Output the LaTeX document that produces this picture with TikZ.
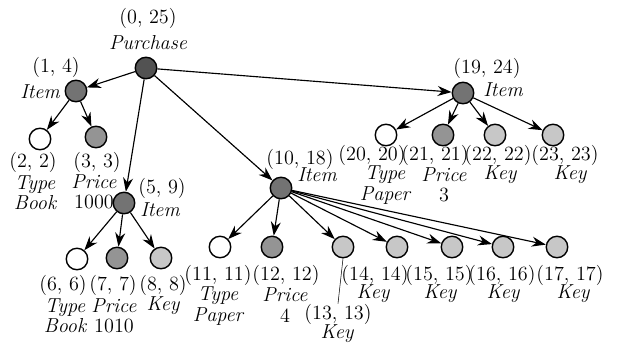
\documentclass[tikz,border=0pt]{standalone}
\usepackage{tikz}
\usetikzlibrary{arrows.meta, positioning}
\tikzset{
  elem/.style={circle, draw, line width=0.8pt, minimum size=4.3mm, inner sep=0pt},
  rootel/.style={elem, fill=black!68},
  itemel/.style={elem, fill=black!55},
  priceel/.style={elem, fill=black!42},
  keyel/.style={elem, fill=black!22},
  typeel/.style={elem, fill=white},
  lbl/.style={align=center, inner sep=0pt, font=\fontsize{11.5}{11.5}\selectfont},
  tag/.style={lbl, font=\fontsize{11.5}{11.5}\selectfont\itshape},
  arc/.style={-{Stealth[length=2.8mm, width=2mm]}, line width=0.65pt}
}

\begin{document}
\begin{tikzpicture}[x=0.02cm, y=-0.02cm]
  \useasboundingbox (0,0) rectangle (617,342);

  % elements
  \node[rootel]  (e0)  at (146,68)  {};
  \node[itemel]  (e1)  at (76,91)   {};
  \node[typeel]  (e2)  at (40,139)  {};
  \node[priceel] (e3)  at (96,137)  {};
  \node[itemel]  (e5)  at (124,203) {};
  \node[typeel]  (e6)  at (77,259)  {};
  \node[priceel] (e7)  at (117,258) {};
  \node[keyel]   (e8)  at (161,258) {};
  \node[itemel]  (e10) at (281,188) {};
  \node[typeel]  (e11) at (220,247) {};
  \node[priceel] (e12) at (272,247) {};
  \node[keyel]   (e13) at (343,247) {};
  \node[keyel]   (e14) at (397,247) {};
  \node[keyel]   (e15) at (452,247) {};
  \node[keyel]   (e16) at (503,247) {};
  \node[keyel]   (e17) at (557,247) {};
  \node[itemel]  (e19) at (463,93)  {};
  \node[typeel]  (e20) at (386,135) {};
  \node[priceel] (e21) at (443,135) {};
  \node[keyel]   (e22) at (495,135) {};
  \node[keyel]   (e23) at (553,135) {};

  % labels
  \node[lbl] (c0)  at (148,18)  {(0, 25)};
  \node[tag] (t0)  at (148,43)  {Purchase};
  \node[lbl] (c1)  at (56,67)   {(1, 4)};
  \node[tag] (t1)  at (40,92)   {Item};
  \node[lbl] (c2)  at (33,162)  {(2, 2)};
  \node[tag] (t2)  at (35,193)  {Type\\Book};
  \node[lbl] (c3)  at (97,162)  {(3, 3)};
  \node[lbl] (t3)  at (94,192)  {\textit{Price}\\1000};
  \node[lbl] (c5)  at (162,188) {(5, 9)};
  \node[tag] (t5)  at (160,210) {Item};
  \node[lbl] (c6)  at (63,285)  {(6, 6)};
  \node[tag] (t6)  at (65,316)  {Type\\Book};
  \node[lbl] (c7)  at (113,285) {(7, 7)};
  \node[lbl] (t7)  at (114,316) {\textit{Price}\\1010};
  \node[lbl] (c8)  at (163,285) {(8, 8)};
  \node[tag] (t8)  at (163,306) {Key};
  \node[lbl] (c10) at (300,159) {(10, 18)};
  \node[tag] (t10) at (317,175) {Item};
  \node[lbl] (c11) at (218,275) {(11, 11)};
  \node[tag] (t11) at (218,306) {Type\\Paper};
  \node[lbl] (c12) at (286,275) {(12, 12)};
  \node[lbl] (t12) at (285,305) {\textit{Price}\\4};
  \node[lbl] (c13) at (338,314) {(13, 13)};
  \node[tag] (t13) at (337,334) {Key};
  \node[lbl] (c14) at (375,275) {(14, 14)};
  \node[tag] (t14) at (373,294) {Key};
  \node[lbl] (c15) at (439,275) {(15, 15)};
  \node[tag] (t15) at (440,294) {Key};
  \node[lbl] (c16) at (502,275) {(16, 16)};
  \node[tag] (t16) at (503,294) {Key};
  \node[lbl] (c17) at (570,275) {(17, 17)};
  \node[tag] (t17) at (573,294) {Key};
  \node[lbl] (c19) at (487,68)  {(19, 24)};
  \node[tag] (t19) at (503,90)  {Item};
  \node[lbl] (c20) at (372,155) {(20, 20)};
  \node[tag] (t20) at (385,185) {Type\\Paper};
  \node[lbl] (c21) at (435,155) {(21, 21)};
  \node[lbl] (t21) at (444,185) {\textit{Price}\\3};
  \node[lbl] (c22) at (498,155) {(22, 22)};
  \node[tag] (t22) at (500,175) {Key};
  \node[lbl] (c23) at (565,155) {(23, 23)};
  \node[tag] (t23) at (570,175) {Key};

  % edges
  \foreach \a/\b in {e0/e1, e0/e5, e0/e10, e0/e19, e1/e2, e1/e3,
                     e5/e6, e5/e7, e5/e8, e10/e11, e10/e12, e10/e13,
                     e10/e14, e10/e15, e10/e16, e10/e17,
                     e19/e20, e19/e21, e19/e22, e19/e23}
    \draw[arc] (\a) -- (\b);
  \draw[line width=0.3pt] (c13.north) -- (e13.south);
\end{tikzpicture}
\end{document}
